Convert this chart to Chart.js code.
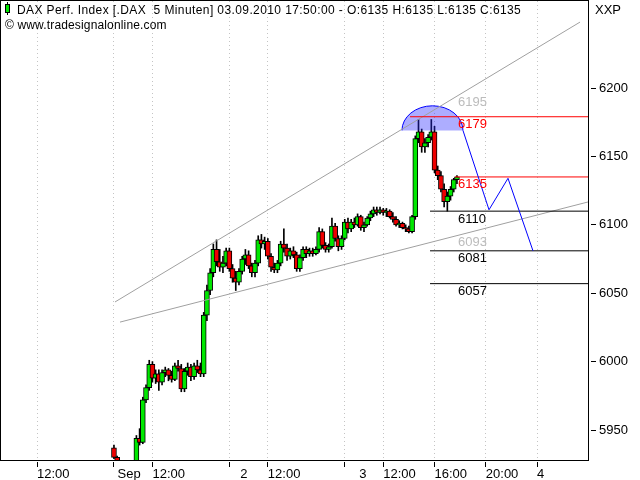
<!DOCTYPE html>
<html>
<head>
<meta charset="utf-8">
<script src="https://cdn.jsdelivr.net/npm/chart.js@4.4.0/dist/chart.umd.min.js"></script>
<style>
  html, body { margin: 0; padding: 0; background: #fff; }
  canvas { display: block; }
</style>
</head>
<body>
<canvas id="myChart" width="640" height="480"></canvas>
<script>
"use strict";

// x unit = trading hours since 31.08. 09:00 (sessions of 9 hours),
// after the last session the time runs on without gaps
let xTickHours = [3, 9, 12, 18, 21, 27, 30, 34, 38, 42];
let xTickLabels = ['12:00', ' Sep', '12:00', '   2', '12:00', '    3', '12:00', '16:00', '20:00', '4'];
let yTickValues = [5950, 6000, 6050, 6100, 6150, 6200];

// 15 minute candles
let sep1Open  = [5937,5930,5920,5916,5918,5914,5917,5926,5944,5941,5972,5981,5998,5988,5991,5985,5992,5994,5990,5987,5997,5995,5980,5993,5996,5989,5997,5994,5991,6034,6052,6065,6082,6073,6069,6072];
let sep1High  = [5939,5931,5924,5921,5922,5920,5927,5946,5951,5974,5983,6001,6000,5994,5994,5994,5996,5995,5993,5999,6001,5998,5995,5999,5998,5999,6001,5999,6036,6056,6068,6086,6089,6082,6077,6083];
let sep1Low   = [5929,5918,5912,5910,5912,5910,5915,5924,5939,5940,5970,5979,5985,5984,5979,5983,5989,5986,5985,5986,5993,5978,5978,5990,5986,5987,5992,5989,5989,6030,6049,6062,6070,6066,6065,6070];
let sep1Close = [5930,5920,5916,5918,5914,5917,5926,5944,5941,5972,5981,5998,5988,5991,5985,5992,5994,5990,5987,5997,5995,5980,5993,5996,5989,5997,5994,5991,6034,6052,6065,6082,6073,6069,6072,6081];

let sep2Open  = [6081,6068,6061,6058,6066,6075,6078,6070,6065,6072,6089,6086,6088,6077,6069,6067,6072,6086,6083,6077,6081,6078,6068,6076,6082,6079,6081,6079,6082,6095,6085,6082,6084,6099,6090,6084];
let sep2High  = [6083,6071,6066,6068,6077,6082,6081,6072,6074,6092,6093,6091,6090,6079,6072,6074,6088,6097,6086,6083,6084,6080,6078,6084,6084,6083,6083,6084,6098,6097,6087,6086,6105,6101,6092,6092];
let sep2Low   = [6066,6058,6052,6056,6064,6071,6068,6062,6062,6070,6083,6082,6075,6066,6065,6065,6070,6080,6074,6075,6076,6066,6066,6074,6076,6077,6077,6078,6080,6083,6080,6080,6083,6088,6081,6082];
let sep2Close = [6068,6061,6058,6066,6075,6078,6070,6065,6072,6089,6086,6088,6077,6069,6067,6072,6086,6083,6077,6081,6078,6068,6076,6082,6079,6081,6079,6082,6095,6085,6082,6084,6099,6090,6084,6090];

let sep3Open  = [6090,6102,6097,6102,6100,6106,6098,6100,6105,6108,6111,6109,6111,6109,6110,6106,6104,6100,6101,6098,6097,6095,6106,6163,6168,6157,6160,6164,6168,6140,6136,6126,6117,6121,6126,6133];
let sep3High  = [6104,6105,6104,6105,6108,6107,6102,6106,6110,6113,6113,6113,6112,6112,6111,6109,6106,6103,6102,6100,6099,6107,6165,6177,6170,6163,6166,6177,6172,6143,6139,6130,6124,6128,6134,6136];
let sep3Low   = [6089,6094,6095,6098,6099,6096,6095,6099,6103,6106,6107,6108,6107,6106,6105,6102,6099,6098,6097,6095,6094,6094,6104,6160,6153,6153,6157,6162,6138,6133,6124,6113,6110,6118,6124,6130];
let sep3Close = [6102,6097,6102,6100,6106,6098,6100,6105,6108,6111,6109,6111,6109,6110,6106,6104,6100,6101,6098,6097,6095,6106,6163,6168,6157,6160,6164,6168,6140,6136,6126,6117,6121,6126,6133,6135];

// drawing tools
let levelValues = [6179, 6135, 6110, 6081, 6057];
let levelStartHours = [32.09, 35.6, 33.65, 33.65, 33.65];
let levelLabelValues = [6195, 6179, 6135, 6110, 6093, 6081, 6057];
let levelLabelHour = 35.83;

let upperTrendHours = [9.08, 45.35];
let upperTrendValues = [6043.6, 6248.2];
let lowerTrendHours = [9.47, 45.97];
let lowerTrendValues = [6028.9, 6116.7];

let projectionHours = [36.22, 38.25, 39.73, 41.68];
let projectionValues = [6169, 6111, 6134, 6081];

let arcCenterHour = 33.84;
let arcBaseValue = 6169;
let arcHalfHours = 2.38;
let arcTopValue = 6187;

let xMin = 0.19, xMax = 45.97;
let yMin = 5928.1, yMax = 6263.6;

let titleText = 'DAX Perf. Index [.DAX  5 Minuten] 03.09.2010 17:50:00 - O:6135 H:6135 L:6135 C:6135';
let copyrightText = '\u00a9 www.tradesignalonline.com';

// styles
let upColor = '#00e800';
let downColor = '#ee0000';
let levelColors = ['#ff0000', '#ff0000', '#000000', '#000000', '#000000'];
let levelLabelColors = ['#bcbcbc', '#ff0000', '#ff0000', '#000000', '#bcbcbc', '#000000', '#000000'];

Chart.defaults.font.family = "'Liberation Sans', Arial, sans-serif";
Chart.defaults.font.size = 13;
Chart.defaults.color = '#000';

let days = [
    [1, sep1Open, sep1High, sep1Low, sep1Close],
    [2, sep2Open, sep2High, sep2Low, sep2Close],
    [3, sep3Open, sep3High, sep3Low, sep3Close]
];

let wickData = [];
let bodyData = [];
let bodyColors = [];
for (let d = 0; d < days.length; d++){
    let day = days[d];
    for (let k = 0; k < day[1].length; k++){
        let t = day[0] * 9 + k * 0.25;
        wickData.push({x: t, y: [day[3][k], day[2][k]]});
        bodyData.push({x: t, y: [day[1][k], day[4][k]]});
        bodyColors.push(day[4][k] >= day[1][k] ? upColor : downColor);
    }
}

function lineSet(hours, values, color, order){
    return {
        type: 'line',
        data: hours.map((h, i) => ({x: h, y: values[i]})),
        borderColor: color,
        borderWidth: 1,
        pointRadius: 0,
        fill: false,
        tension: 0,
        order: order
    };
}

let datasets = [
    {
        type: 'bar',
        label: 'bodies',
        data: bodyData,
        backgroundColor: bodyColors,
        borderColor: '#000',
        borderWidth: 1,
        borderSkipped: false,
        barThickness: 5,
        grouped: false,
        order: 9
    },
    {
        type: 'bar',
        label: 'wicks',
        data: wickData,
        backgroundColor: '#000',
        borderWidth: 0,
        barThickness: 1,
        grouped: false,
        order: 10
    },
    lineSet(upperTrendHours, upperTrendValues, '#a0a0a0', 5),
    lineSet(lowerTrendHours, lowerTrendValues, '#a0a0a0', 5)
];
for (let i = 0; i < levelValues.length; i++){
    datasets.push(lineSet([levelStartHours[i], xMax], [levelValues[i], levelValues[i]], levelColors[i], 4));
}
datasets.push(lineSet(projectionHours, projectionValues, '#0000ff', 3));

let overlay = {
    id: 'overlay',
    afterDatasetDraw(chart, args){
        if (chart.data.datasets[args.index].label !== 'bodies') return;
        let ctx = chart.ctx, xs = chart.scales.x, ys = chart.scales.y;
        let cx = xs.getPixelForValue(arcCenterHour);
        let cy = ys.getPixelForValue(arcBaseValue);
        let rx = xs.getPixelForValue(arcCenterHour + arcHalfHours) - cx;
        let ry = cy - ys.getPixelForValue(arcTopValue);
        ctx.save();
        ctx.beginPath();
        ctx.ellipse(cx, cy, rx, ry, 0, Math.PI, 2 * Math.PI);
        ctx.closePath();
        ctx.fillStyle = 'rgba(40, 40, 255, 0.38)';
        ctx.fill();
        ctx.beginPath();
        ctx.ellipse(cx, cy, rx, ry, 0, Math.PI, 2 * Math.PI);
        ctx.strokeStyle = '#0000ff';
        ctx.lineWidth = 1;
        ctx.stroke();
        ctx.restore();
    },
    afterDatasetsDraw(chart){
        let ctx = chart.ctx, xs = chart.scales.x, ys = chart.scales.y;
        ctx.save();
        ctx.font = "13px 'Liberation Sans', Arial, sans-serif";
        ctx.textBaseline = 'alphabetic';
        ctx.textAlign = 'left';
        let lx = xs.getPixelForValue(levelLabelHour);
        for (let i = 0; i < levelLabelValues.length; i++){
            ctx.fillStyle = levelLabelColors[i];
            ctx.fillText(String(levelLabelValues[i]), lx, ys.getPixelForValue(levelLabelValues[i]) + 11.5);
        }
        ctx.restore();
    },
    afterDraw(chart){
        let ctx = chart.ctx, ca = chart.chartArea;
        ctx.save();
        ctx.strokeStyle = '#000';
        ctx.lineWidth = 1;
        ctx.strokeRect(0.5, 0.5, ca.right, ca.bottom);
        // small candle in front of the title
        ctx.fillStyle = '#000';
        ctx.fillRect(7, 2, 1, 13);
        ctx.fillRect(5, 4, 5, 9);
        ctx.fillStyle = upColor;
        ctx.fillRect(6, 5, 3, 7);
        ctx.fillStyle = '#000';
        ctx.font = "12px 'Liberation Sans', Arial, sans-serif";
        ctx.textBaseline = 'alphabetic';
        ctx.letterSpacing = '0.4px';
        ctx.fillText(titleText, 17, 14);
        ctx.letterSpacing = '0.15px';
        ctx.fillText(copyrightText, 5, 29);
        ctx.letterSpacing = '0px';
        ctx.font = "13px 'Liberation Sans', Arial, sans-serif";
        ctx.fillText('XXP', ca.right + 7, 14);
        ctx.restore();
    }
};

let ctx = document.getElementById('myChart').getContext('2d');
let myChart = new Chart(ctx, {
    type: 'bar',
    data: { datasets: datasets },
    options: {
        responsive: false,
        animation: false,
        devicePixelRatio: 1,
        layout: { padding: { left: 1, top: 1, right: 0, bottom: 0 } },
        plugins: {
            legend: { display: false },
            tooltip: { enabled: false }
        },
        scales: {
            x: {
                type: 'linear',
                min: xMin,
                max: xMax,
                offset: false,
                afterBuildTicks: s => { s.ticks = xTickHours.map(v => ({value: v})); },
                afterFit: s => { s.height = 20; s.paddingLeft = 0; s.paddingRight = 0; },
                grid: {
                    offset: false,
                    color: '#c4c4c4',
                    tickColor: '#000',
                    tickLength: 7,
                    tickBorderDash: [0, 2, 5, 20]
                },
                border: { display: false, dash: [1, 3] },
                ticks: {
                    align: 'start',
                    autoSkip: false,
                    maxRotation: 0,
                    padding: 0,
                    callback: v => xTickLabels[xTickHours.indexOf(v)]
                }
            },
            y: {
                position: 'right',
                min: yMin,
                max: yMax,
                afterBuildTicks: s => { s.ticks = yTickValues.map(v => ({value: v})); },
                afterFit: s => { s.width = 52; s.paddingTop = 0; s.paddingBottom = 0; },
                grid: {
                    drawOnChartArea: false,
                    tickColor: '#000',
                    tickLength: 8,
                    tickBorderDash: [0, 3, 5, 20]
                },
                border: { display: false },
                ticks: {
                    padding: 3,
                    callback: v => String(v)
                }
            }
        }
    },
    plugins: [overlay]
});
</script>
</body>
</html>
